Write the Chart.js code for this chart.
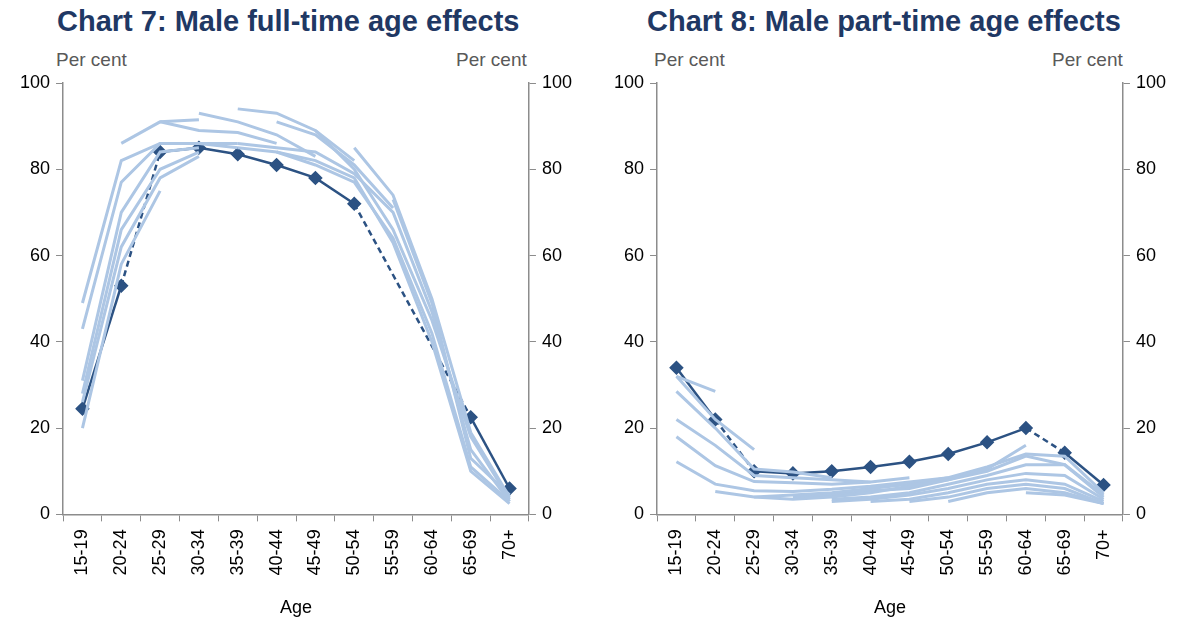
<!DOCTYPE html>
<html>
<head>
<meta charset="UTF-8">
<script src="https://cdn.jsdelivr.net/npm/chart.js"></script>
<style>
  body { margin:0; background:#fff; font-family:"Liberation Sans", Arial, sans-serif; overflow:hidden; }
  .panel { position:absolute; top:0; width:594px; height:619px; }
  .title { position:absolute; top:5px; white-space:nowrap; font-weight:bold; font-size:29px; color:#1f3864; }
  .unit { position:absolute; top:49px; font-size:19px; color:#595959; }
  .box { position:absolute; top:62px; left:0; width:594px; height:565px; }
</style>
</head>
<body>
<div class="panel" style="left:0">
  <div class="title" style="left:57px">Chart 7: Male full-time age effects</div>
  <div class="unit" style="left:56px">Per cent</div>
  <div class="unit" style="left:456px">Per cent</div>
  <div class="box"><canvas id="c7"></canvas></div>
</div>
<div class="panel" style="left:594px">
  <div class="title" style="left:53px">Chart 8: Male part-time age effects</div>
  <div class="unit" style="left:60px">Per cent</div>
  <div class="unit" style="left:458px">Per cent</div>
  <div class="box"><canvas id="c8"></canvas></div>
</div>
<script>
const ages = ["15-19","20-24","25-29","30-34","35-39","40-44","45-49","50-54","55-59","60-64","65-69","70+"];
const yTicks = [0, 20, 40, 60, 80, 100];

// main (average) series; null = not estimated, bridged by a dashed line
const fullMain = [24.5, 53, 84, 85, 83.5, 81, 78, 72, null, null, 22.5, 6];
const partMain = [34, 22, 10, 9.5, 10, 11, 12.2, 14, 16.7, 20, 14.3, 6.8];
const fullDash = [[1, 2], [7, 10]];   // dashed stretches (from index, to index)
const partDash = [[1, 2], [9, 10]];

// cohort age effects (light lines)
const fullCohorts = [
  [49, 82, 86, 86, 86, null, null, null, null, null, null, null],
  [43, 77, 86, 86, 85, null, null, null, null, null, null, null],
  [31, 70, 84, 85, null, null, null, null, null, null, null, null],
  [28, 66, 80, 84, null, null, null, null, null, null, null, null],
  [26, 62, 78, 83, null, null, null, null, null, null, null, null],
  [20, 58, 75, null, null, null, null, null, null, null, null, null],
  [null, 86, 91, 91.5, null, null, null, null, null, null, null, null],
  [null, null, 91, 89, 88.5, 86, null, null, null, null, null, null],
  [null, null, null, 93, 91, 88, 83, null, null, null, null, null],
  [null, null, null, null, 94, 93, 89, 82, null, null, null, null],
  [null, null, null, null, null, 91, 88, 81, 71, null, null, null],
  [null, null, null, null, 86, 85, 84, 79, 70, 47, 15, 3],
  [null, null, null, null, 85, 84, 82, 78, 63, 40, 10, 2.5],
  [null, null, null, null, null, 84, 81, 77, 64, 42, 11, 3],
  [null, null, null, null, null, null, 89, 80, 66, 45, 18, 3.5],
  [null, null, null, null, null, null, null, 85, 74, 50, 19, 4],
  [null, null, null, null, null, null, null, null, 73, 49, 13, 4.5]
];
const partCohorts = [
  [32, 28.5, null, null, null, null, null, null, null, null, null, null],
  [32, 22, 15, null, null, null, null, null, null, null, null, null],
  [28.5, 20, 10.5, 9.8, 8.5, null, null, null, null, null, null, null],
  [22, 16, 9, 8.5, 8, 7.5, null, null, null, null, null, null],
  [18, 11.3, 7.6, 7.3, 7, 7.5, 8.5, null, null, null, null, null],
  [12.2, 7, 5.5, 5.3, 5.8, 6.5, 7.5, 8.5, null, null, null, null],
  [null, 5.3, 4, 3.5, 4, 5, 6.5, 8, 10.5, 16, null, null],
  [null, null, 4, 4.5, 5, 6, 7, 8.5, 11, 14, 13.5, 5],
  [null, null, null, 4, 4.5, 5.5, 6, 8, 10, 13.5, 11.5, 4.5],
  [null, null, null, null, 3.5, 4, 5, 7, 9, 11.5, 11.5, 4],
  [null, null, null, null, 3, 3.5, 4.5, 6, 8, 9.5, 9, 3.5],
  [null, null, null, null, null, 3, 3.5, 5, 7, 8, 7, 3],
  [null, null, null, null, null, null, 3, 4, 6, 7, 6, 2.5],
  [null, null, null, null, null, null, null, 3, 5, 6, 5, 2.5],
  [null, null, null, null, null, null, null, null, null, 5, 4.5, 2.5]
];

const axisCol = '#8c8c8c';
const darkCol = '#2c5283';
const tickFont = { family: 'Liberation Sans, Arial', size: 18 };

function build(id, main, dash, cohorts) {
  const sets = cohorts.map(c => ({
    data: c, borderColor: '#adc6e4', borderWidth: 3, pointRadius: 0, spanGaps: false
  }));
  // dashed bridges, built from the main series
  dash.forEach(([a, b]) => {
    sets.push({
      data: main.map((v, i) => (i === a || i === b) ? v : null),
      borderColor: darkCol, borderWidth: 2.5, borderDash: [6, 4], pointRadius: 0, spanGaps: true
    });
  });
  sets.push({
    data: main, borderColor: darkCol, backgroundColor: darkCol, borderWidth: 2.5,
    pointStyle: 'rectRot', pointRadius: 5.5, spanGaps: false,
    segment: { borderDash: ctx => dash.some(([a]) => a === ctx.p0DataIndex) ? [0, 100] : undefined }
  });
  const yAxis = (pos) => ({
    position: pos, min: 0, max: 100,
    afterBuildTicks: a => { a.ticks = yTicks.map(v => ({ value: v })); },
    border: { color: axisCol, width: 1.5 },
    grid: { drawOnChartArea: false, color: axisCol, tickLength: 7 },
    ticks: { color: '#000', font: tickFont, padding: 6 }
  });
  new Chart(document.getElementById(id), {
    type: 'line',
    data: { labels: ages, datasets: sets },
    options: {
      responsive: true, maintainAspectRatio: false, animation: false,
      layout: { padding: { left: 14, right: 16, top: 21, bottom: 4 } },
      plugins: { legend: { display: false }, tooltip: { enabled: false } },
      scales: {
        x: {
          offset: true,
          border: { color: axisCol, width: 1.5 },
          grid: { offset: true, drawOnChartArea: false, color: axisCol, tickLength: 7 },
          ticks: { color: '#000', font: tickFont, maxRotation: 90, minRotation: 90, autoSkip: false, padding: 8 },
          title: { display: true, text: 'Age', color: '#000', font: tickFont, padding: { top: 14 } }
        },
        y: yAxis('left'),
        y2: yAxis('right')
      }
    }
  });
}
build('c7', fullMain, fullDash, fullCohorts);
build('c8', partMain, partDash, partCohorts);
</script>
</body>
</html>
